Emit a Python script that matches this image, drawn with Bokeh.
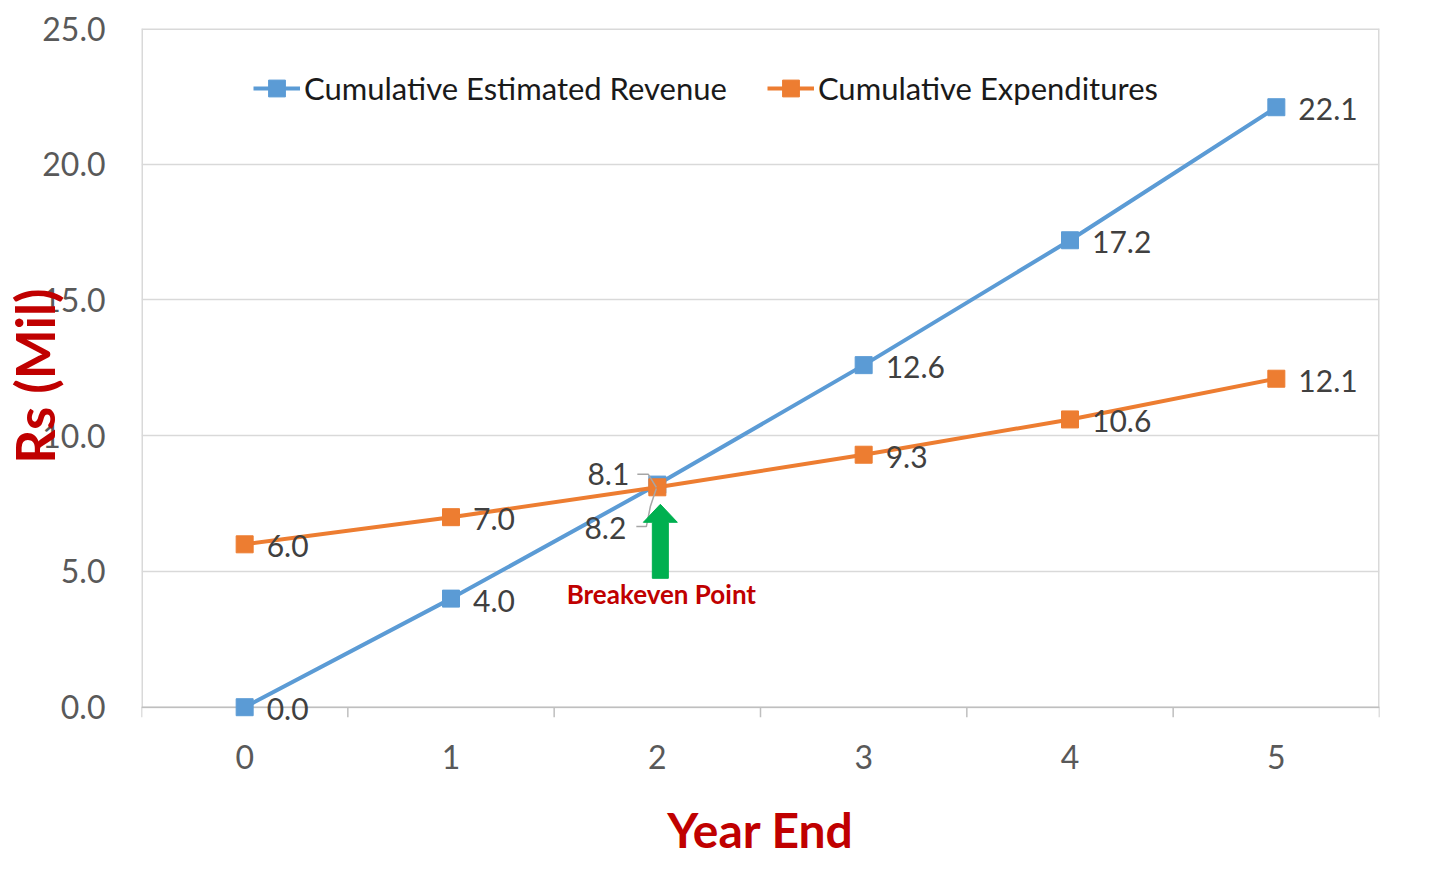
import math
from bokeh.plotting import figure
from bokeh.models import (FixedTicker, NumeralTickFormatter, Label, Legend, LegendItem,
                          ColumnDataSource, Range1d)
from bokeh.core.properties import value
from bokeh.embed import file_html
from bokeh.resources import INLINE

# ---- data ----
years = [0, 1, 2, 3, 4, 5]
revenue = [0.0, 4.0, 8.2, 12.6, 17.2, 22.1]
expenditure = [6.0, 7.0, 8.1, 9.3, 10.6, 12.1]
y_ticks = [0, 5, 10, 15, 20, 25]
series_names = ["Cumulative Estimated Revenue", "Cumulative Expenditures"]
breakeven_year = 2
breakeven_text = "Breakeven Point"
x_title = "Year End"
y_title = "Rs (Mil)"

BLUE = "#5B9BD5"
ORANGE = "#ED7D31"
RED = "#C00000"
GREEN = "#00B050"
GRID = "#D9D9D9"
AXIS = "#BFBFBF"
FONT = "Lato"

W, H = 1423, 866
ML, MR, MT, MB = 141, 44, 28, 143
x0, x1 = -0.5, 5.5
y0, y1 = 0, 25
y_pad = 0.6          # room below the value axis so the "0.0" data label is not clipped
px_x = (W - ML - MR) / (x1 - x0)
px_y = (H - MT - MB) / (y1 - y0 + y_pad)

p = figure(width=W, height=H, output_backend="svg", toolbar_location=None,
           x_range=Range1d(x0, x1), y_range=Range1d(y0 - y_pad, y1),
           min_border_left=ML, min_border_right=MR, min_border_top=MT, min_border_bottom=MB)
p.outline_line_color = None
p.background_fill_color = "white"
p.border_fill_color = "white"

# x axis: labels only (axis line and tick marks drawn at y = 0 below)
p.xaxis.ticker = FixedTicker(ticks=years)
p.xaxis.axis_line_color = None
p.xaxis.major_tick_line_color = None
p.xaxis.minor_tick_line_color = None
p.xaxis.major_tick_out = 0
p.xaxis.major_tick_in = 0
p.xaxis.major_label_standoff = 21
p.xaxis.major_label_text_font = FONT
p.xaxis.major_label_text_font_size = "32px"
p.xaxis.major_label_text_color = "#595959"
p.xaxis.axis_label = x_title
p.xaxis.axis_label_text_font = FONT
p.xaxis.axis_label_text_font_size = "48px"
p.xaxis.axis_label_text_font_style = "bold"
p.xaxis.axis_label_text_color = RED
p.xaxis.axis_label_standoff = 29

p.yaxis.ticker = FixedTicker(ticks=y_ticks)
p.yaxis.formatter = NumeralTickFormatter(format="0.0")
p.yaxis.axis_line_color = None
p.yaxis.major_tick_line_color = None
p.yaxis.minor_tick_line_color = None
p.yaxis.major_tick_out = 0
p.yaxis.major_tick_in = 0
p.yaxis.major_label_standoff = 36
p.yaxis.major_label_text_font = FONT
p.yaxis.major_label_text_font_size = "32px"
p.yaxis.major_label_text_color = "#595959"
p.yaxis.axis_label = y_title
p.yaxis.axis_label_text_font = FONT
p.yaxis.axis_label_text_font_size = "53px"
p.yaxis.axis_label_text_font_style = "bold"
p.yaxis.axis_label_text_color = RED
p.yaxis.axis_label_standoff = -27

p.xgrid.grid_line_color = None
p.ygrid.grid_line_color = GRID
p.ygrid.grid_line_width = 1.5

# plot-area border over the value range, category axis line and boundary ticks
p.segment(x0=[x0, x1], y0=[y0, y0], x1=[x0, x1], y1=[y1, y1], line_color=GRID, line_width=3)
p.segment(x0=[x0], y0=[y1], x1=[x1], y1=[y1], line_color=GRID, line_width=3)
p.segment(x0=[x0], y0=[y0], x1=[x1], y1=[y0], line_color=AXIS, line_width=1.5)
bounds = [yr - 0.5 for yr in years] + [years[-1] + 0.5]
p.segment(x0=bounds, y0=[y0] * len(bounds), x1=bounds, y1=[y0 - 10 / px_y] * len(bounds),
          line_color=AXIS, line_width=1.5)

# series
r_line = p.line(years, revenue, line_color=BLUE, line_width=4)
r_pts = p.scatter(years, revenue, marker="square", size=17, fill_color=BLUE, line_color=BLUE)
e_line = p.line(years, expenditure, line_color=ORANGE, line_width=4)
e_pts = p.scatter(years, expenditure, marker="square", size=17, fill_color=ORANGE, line_color=ORANGE)

# data labels
def label_offsets(special_dx, special_dy):
    dx, dy, al = [], [], []
    for yr in years:
        if yr == breakeven_year:
            dx.append(special_dx); dy.append(special_dy); al.append("right")
        else:
            dx.append(22); dy.append(2); al.append("left")
    return dx, dy, al

rdx, rdy, ral = label_offsets(-31, 43)
edx, edy, eal = label_offsets(-28, -13)
rsrc = ColumnDataSource(dict(x=years, y=revenue, t=[f"{v:.1f}" for v in revenue], dx=rdx, dy=rdy, al=ral))
esrc = ColumnDataSource(dict(x=years, y=expenditure, t=[f"{v:.1f}" for v in expenditure], dx=edx, dy=edy, al=eal))
for src in (rsrc, esrc):
    p.text(x="x", y="y", text="t", x_offset="dx", y_offset="dy", text_align="al", source=src,
           text_baseline="middle", text_font=value(FONT), text_font_size="30px", text_color="#404040")

# leader lines for the breakeven labels (pixel offsets converted to data units)
bi = years.index(breakeven_year)
ev, rv = expenditure[bi], revenue[bi]
lead1 = [(-20, 13), (-9, 13), (-1, 0)]
lead2 = [(-21, -42), (-11, -42), (-7, -22), (-1, -4)]
p.line([breakeven_year + a / px_x for a, b in lead1], [ev + b / px_y for a, b in lead1],
       line_color="#A6A6A6", line_width=1.5)
p.line([breakeven_year + a / px_x for a, b in lead2], [rv + b / px_y for a, b in lead2],
       line_color="#A6A6A6", line_width=1.5)

# breakeven arrow (pixel offsets from the breakeven point)
arrow_px = [(3, -17), (20, -35), (11, -35), (11, -91), (-5, -91), (-5, -35), (-14, -35)]
p.patch([breakeven_year + a / px_x for a, b in arrow_px], [ev + b / px_y for a, b in arrow_px],
        fill_color=GREEN, line_color=GREEN, line_width=1)
p.add_layout(Label(x=breakeven_year, y=ev - 107 / px_y, text=breakeven_text, text_align="center",
                   text_baseline="middle", text_font=FONT, text_font_size="26px",
                   text_font_style="bold", text_color=RED, x_offset=4))

# legend
legend = Legend(items=[LegendItem(label=series_names[0], renderers=[r_line, r_pts]),
                       LegendItem(label=series_names[1], renderers=[e_line, e_pts])],
                orientation="horizontal", location=(112, 614))
legend.label_text_font = FONT
legend.label_text_font_size = "31px"
legend.label_text_color = "#1A1A1A"
legend.glyph_width = 47
legend.glyph_height = 42
legend.label_standoff = 4
legend.spacing = 40
legend.border_line_color = None
legend.background_fill_alpha = 0
legend.padding = 6
p.add_layout(legend, "center")

open("out.html", "w").write(file_html(p, INLINE))
